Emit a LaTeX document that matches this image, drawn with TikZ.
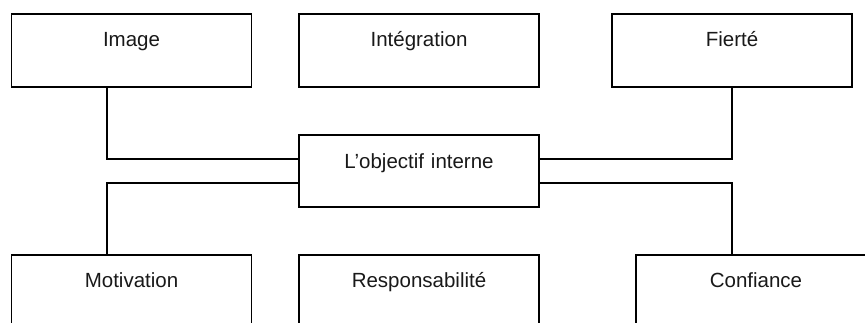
\documentclass[tikz,border=0pt]{standalone}
\usepackage{fontspec}
\setmainfont{Liberation Sans}
\begin{document}
\begin{tikzpicture}[x=1pt,y=-1pt,
  box/.style={draw=black,line width=1.5pt,fill=white,inner sep=0pt,
    text width=240pt,align=center,text height=32pt,text depth=41pt,
    font=\fontsize{20.5}{24}\selectfont,text=black!90},
  hubbox/.style={box,text height=33pt,text depth=39pt},
  link/.style={draw=black,line width=1.5pt}]
\useasboundingbox (0,0) rectangle (865,322);
\clip (0,0) rectangle (865,322);
\fill[white] (0,0) rectangle (865,322);
\node[box] (img) at (131.5,50.5) {Image};
\node[box] (integ) at (419,50.5) {Intégration};
\node[box] (fier) at (732,50.5) {Fierté};
\node[hubbox] (ctr) at (419,171) {L’objectif interne};
\node[box] (mot) at (131.5,291.5) {Motivation};
\node[box] (resp) at (419,291.5) {Responsabilité};
\node[box] (conf) at (756,291.5) {Confiance};
\draw[link] ([xshift=-24.5pt]img.south) |- ([yshift=12pt]ctr.west);
\draw[link] (fier.south) |- ([yshift=12pt]ctr.east);
\draw[link] ([xshift=-24.5pt]mot.north) |- ([yshift=-12pt]ctr.west);
\draw[link] ([xshift=-24pt]conf.north) |- ([yshift=-12pt]ctr.east);
\end{tikzpicture}
\end{document}
